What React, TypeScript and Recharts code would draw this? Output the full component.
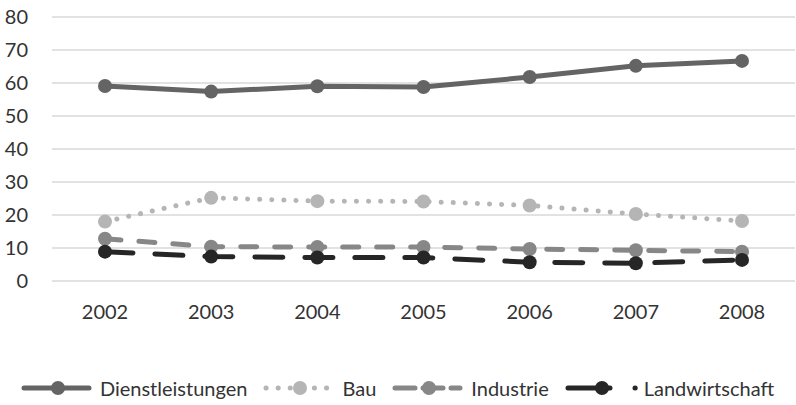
import { CartesianGrid, Legend, Line, LineChart, XAxis, YAxis } from "recharts";

const years = ["2002", "2003", "2004", "2005", "2006", "2007", "2008"];
const dienstleistungen = [59.1, 57.4, 59.0, 58.8, 61.8, 65.2, 66.7];
const bau = [18.0, 25.2, 24.2, 24.1, 22.9, 20.3, 18.2];
const industrie = [12.8, 10.4, 10.3, 10.3, 9.7, 9.3, 8.9];
const landwirtschaft = [8.9, 7.4, 7.1, 7.1, 5.7, 5.4, 6.4];
const yTicks = [0, 10, 20, 30, 40, 50, 60, 70, 80];

const data = years.map((year, i) => ({
  year,
  Dienstleistungen: dienstleistungen[i],
  Bau: bau[i],
  Industrie: industrie[i],
  Landwirtschaft: landwirtschaft[i],
}));

const SERIES = [
  { key: "Dienstleistungen", color: "#646464", dash: undefined, iconDash: undefined, x2: 68 },
  { key: "Bau", color: "#b5b5b5", dash: "0.1 12", iconDash: "0.1 12", x2: 68 },
  { key: "Industrie", color: "#878787", dash: "16 18", iconDash: "20 8", x2: 68 },
  { key: "Landwirtschaft", color: "#262626", dash: "28 22", iconDash: "42 25", x2: 70.2 },
];

const FONT = "Lato, 'Liberation Sans', sans-serif";

function LegendContent() {
  return (
    <div
      style={{
        display: "flex",
        justifyContent: "center",
        alignItems: "center",
        height: 30,
        fontFamily: FONT,
        fontSize: 20,
        color: "#333",
      }}
    >
      {SERIES.map((s, i) => (
        <div
          key={s.key}
          style={{ display: "flex", alignItems: "center", marginRight: i < SERIES.length - 1 ? 16 : 0 }}
        >
          <svg width={74} height={18} style={{ marginRight: 5 }}>
            <line
              x1={3}
              y1={9}
              x2={s.x2}
              y2={9}
              stroke={s.color}
              strokeWidth={5}
              strokeLinecap="round"
              strokeDasharray={s.iconDash}
            />
            <circle cx={37} cy={9} r={7} fill={s.color} />
          </svg>
          <span>{s.key}</span>
        </div>
      ))}
    </div>
  );
}

export default function App() {
  return (
    <div style={{ position: "absolute", left: 0, top: 0, background: "#fff" }}>
      <LineChart width={796} height={405} data={data} margin={{ top: 17, right: 1, bottom: 2, left: 0 }}>
        <CartesianGrid vertical={false} stroke="#d9d9d9" strokeWidth={1.5} />
        <XAxis
          dataKey="year"
          axisLine={false}
          tickLine={false}
          tickSize={0}
          tickMargin={24}
          height={92}
          padding={{ left: 53, right: 53 }}
          tick={{ fill: "#333", fontSize: 20, fontFamily: FONT }}
        />
        <YAxis
          domain={[0, 80]}
          ticks={yTicks}
          axisLine={false}
          tickLine={false}
          tickSize={0}
          tickMargin={24}
          width={52}
          tick={{ fill: "#333", fontSize: 20, fontFamily: FONT }}
        />
        <Legend verticalAlign="bottom" height={30} content={<LegendContent />} />
        {SERIES.map((s) => (
          <Line
            key={s.key}
            dataKey={s.key}
            stroke={s.color}
            strokeWidth={5}
            strokeLinecap="round"
            strokeDasharray={s.dash}
            dot={{ r: 7, fill: s.color, stroke: "none" }}
            activeDot={false}
            isAnimationActive={false}
          />
        ))}
      </LineChart>
    </div>
  );
}
